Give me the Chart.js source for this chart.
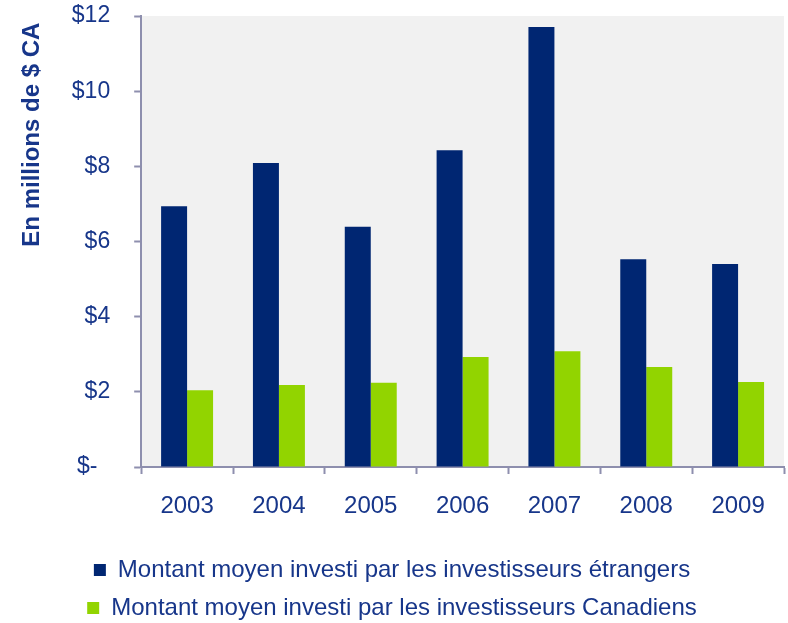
<!DOCTYPE html>
<html>
<head>
<meta charset="utf-8">
<script src="https://cdn.jsdelivr.net/npm/chart.js@4"></script>
<style>
  body { margin: 0; background: #fff; }
  .chart-box { width: 788px; height: 623px; }
</style>
</head>
<body>
<div class="chart-box"><canvas id="investChart"></canvas></div>
<script>
const years = ["2003", "2004", "2005", "2006", "2007", "2008", "2009"];
const foreignAvg = [6.94, 8.09, 6.39, 8.43, 11.71, 5.53, 5.40];
const canadianAvg = [2.04, 2.18, 2.24, 2.93, 3.08, 2.66, 2.26];
const seriesNames = [
  "Montant moyen investi par les investisseurs étrangers",
  "Montant moyen investi par les investisseurs Canadiens"
];

const textColor = "#17368a";
const axisColor = "#8e8fae";

// light grey fill behind the bars
const plotBackground = {
  id: "plotBackground",
  beforeDraw(chart) {
    const { ctx, chartArea } = chart;
    ctx.save();
    ctx.fillStyle = "#f1f1f1";
    ctx.fillRect(chartArea.left, chartArea.top, chartArea.right - chartArea.left, chartArea.bottom - chartArea.top);
    ctx.restore();
  }
};

const ctx = document.getElementById("investChart");

new Chart(ctx, {
  type: "bar",
  data: {
    labels: years,
    datasets: [
      { label: seriesNames[0], data: foreignAvg, backgroundColor: "#002672" },
      { label: seriesNames[1], data: canadianAvg, backgroundColor: "#92d400" }
    ]
  },
  options: {
    responsive: true,
    maintainAspectRatio: false,
    animation: false,
    datasets: {
      bar: { categoryPercentage: 0.566, barPercentage: 1.0 }
    },
    layout: { padding: { top: 0, right: 4, left: 0, bottom: -7 } },
    plugins: {
      legend: {
        position: "bottom",
        labels: {
          boxWidth: 12,
          boxHeight: 12,
          padding: 14,
          color: textColor,
          font: { family: "Liberation Sans, Arial", size: 24 }
        }
      },
      tooltip: { enabled: false }
    },
    scales: {
      x: {
        grid: {
          offset: true,
          drawOnChartArea: false,
          tickLength: 7,
          tickWidth: 2,
          color: axisColor
        },
        border: { color: axisColor, width: 2 },
        ticks: {
          color: textColor,
          padding: 18,
          font: { family: "Liberation Sans, Arial", size: 24 }
        },
        afterFit: function (scale) {
          scale.height = 77;
        }
      },
      y: {
        min: 0,
        max: 12,
        grid: {
          drawOnChartArea: false,
          tickLength: 7,
          tickWidth: 2,
          color: axisColor
        },
        border: { color: axisColor, width: 2 },
        ticks: {
          stepSize: 2,
          color: textColor,
          padding: 24,
          font: { family: "Liberation Sans, Arial", size: 23 },
          callback: function (value) {
            return value === 0 ? "$-  " : "$" + value;
          }
        },
        title: {
          display: true,
          text: "En millions de $ CA ",
          align: "end",
          color: textColor,
          padding: { top: 18, bottom: 1 },
          font: { family: "Liberation Sans, Arial", size: 24, weight: "bold" }
        },
        afterFit: function (scale) {
          scale.paddingTop = 16;
          scale.paddingBottom = 0;
        }
      }
    }
  },
  plugins: [plotBackground]
});
</script>
</body>
</html>
